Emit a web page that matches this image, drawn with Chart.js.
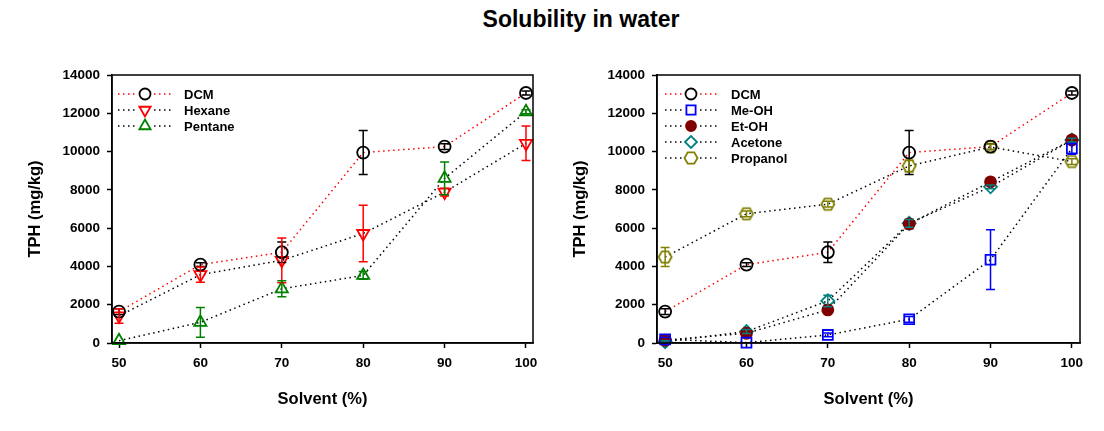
<!DOCTYPE html>
<html>
<head>
<meta charset="utf-8">
<script src="https://cdn.jsdelivr.net/npm/chart.js@4.4.1/dist/chart.umd.min.js"></script>
<style>
  body { margin: 0; background: #fff; width: 1104px; height: 431px; overflow: hidden; position: relative; }
  #title { position: absolute; left: 381px; top: 5px; width: 400px; text-align: center;
           font: bold 23px 'Liberation Sans', Arial, sans-serif; line-height: 28px; color: #000; }
  canvas { position: absolute; top: 0; }
  #left { left: 0; }
  #right { left: 552px; }
</style>
</head>
<body>
<div id="title">Solubility in water</div>
<canvas id="left" width="552" height="431"></canvas>
<canvas id="right" width="552" height="431"></canvas>
<script>
// Solvent concentration (%) on the x axis
const solvent = [50, 60, 70, 80, 90, 100];
const xTicks = [50, 60, 70, 80, 90, 100];
const yTicks = [0, 2000, 4000, 6000, 8000, 10000, 12000, 14000];

// TPH (mg/kg) and error bars
const dcm = [1640, 4090, 4740, 9950, 10260, 13060];
const dcmErr = [150, 100, 540, 1150, 150, 100];
const hexane = [1415, 3570, 4320, 5720, 7880, 10430];
const hexaneErr = [380, 400, 1170, 1480, 200, 900];
const pentane = [120, 1080, 2830, 3530, 8600, 12080];
const pentaneErr = [0, 780, 420, 200, 850, 100];

const meoh = [190, 20, 420, 1240, 4350, 10160];
const meohErr = [100, 0, 100, 150, 1560, 300];
const etoh = [150, 510, 1730, 6220, 8420, 10610];
const etohErr = [50, 100, 100, 250, 100, 100];
const acetone = [70, 600, 2200, 6250, 8160, 10600];
const acetoneErr = [50, 100, 300, 200, 100, 100];
const propanol = [4490, 6750, 7250, 9250, 10240, 9480];
const propanolErr = [500, 150, 150, 300, 150, 150];

const FONT = "'Liberation Sans', Arial, sans-serif";
Chart.defaults.color = '#000';
Chart.defaults.font.family = FONT;

function points(values) {
    return values.map((v, i) => ({ x: solvent[i], y: v }));
}

// open hexagon marker for propanol
function hexagonMarker(color) {
    const c = document.createElement('canvas');
    c.width = 16; c.height = 16;
    const g = c.getContext('2d');
    g.strokeStyle = color;
    g.lineWidth = 1.8;
    g.beginPath();
    for (let k = 0; k < 6; k++) {
        const a = Math.PI / 3 * k;
        const px = 8 + 6.5 * Math.cos(a), py = 8 + 6.5 * Math.sin(a);
        if (k === 0) g.moveTo(px, py); else g.lineTo(px, py);
    }
    g.closePath();
    g.stroke();
    return c;
}

function series(label, values, errors, color, lineColor, style, opts) {
    return Object.assign({
        label: label,
        data: points(values),
        errors: errors,
        borderColor: lineColor,
        borderWidth: 1.5,
        borderDash: [1.5, 3.5],
        pointStyle: style,
        pointRadius: 6,
        pointBorderWidth: 1.8,
        pointBorderColor: color,
        pointBackgroundColor: 'rgba(0,0,0,0)',
        errorColor: color,
        fill: false,
        clip: false
    }, opts || {});
}

const errorBars = {
    id: 'errorBars',
    afterDatasetsDraw(chart) {
        const { ctx, scales: { x, y } } = chart;
        chart.data.datasets.forEach(ds => {
            if (!ds.errors) return;
            ctx.save();
            ctx.strokeStyle = ds.errorColor;
            ctx.lineWidth = 1.5;
            ds.data.forEach((p, j) => {
                const e = ds.errors[j];
                if (!e) return;
                const px = x.getPixelForValue(p.x);
                const top = y.getPixelForValue(p.y + e);
                const bot = y.getPixelForValue(Math.max(p.y - e, 0));
                ctx.beginPath();
                ctx.moveTo(px, top); ctx.lineTo(px, bot);
                ctx.moveTo(px - 4.5, top); ctx.lineTo(px + 4.5, top);
                ctx.moveTo(px - 4.5, bot); ctx.lineTo(px + 4.5, bot);
                ctx.stroke();
            });
            ctx.restore();
        });
    }
};

const frame = {
    id: 'frame',
    afterDraw(chart) {
        const { ctx, chartArea: a } = chart;
        ctx.save();
        ctx.strokeStyle = '#000';
        ctx.lineWidth = 1.5;
        ctx.strokeRect(a.left, a.top, a.right - a.left, a.bottom - a.top);
        ctx.restore();
    }
};

// legend drawn inside the plot: dotted line, marker, label
const insideLegend = {
    id: 'insideLegend',
    afterDraw(chart, args, o) {
        const ctx = chart.ctx;
        chart.data.datasets.forEach((ds, i) => {
            const y = o.top + i * 16;
            ctx.save();
            ctx.strokeStyle = ds.borderColor;
            ctx.lineWidth = 1.5;
            ctx.setLineDash([1.5, 3.5]);
            ctx.beginPath();
            ctx.moveTo(o.lineStart, y); ctx.lineTo(o.marker - 9, y);
            ctx.moveTo(o.marker + 9, y); ctx.lineTo(o.lineEnd, y);
            ctx.stroke();
            ctx.setLineDash([]);
            ctx.strokeStyle = ds.pointBorderColor;
            ctx.fillStyle = ds.pointBackgroundColor;
            ctx.lineWidth = ds.pointBorderWidth;
            if (Chart.helpers && Chart.helpers.drawPoint) {
                Chart.helpers.drawPoint(ctx, {
                    pointStyle: ds.pointStyle,
                    rotation: ds.pointRotation || 0,
                    radius: ds.pointRadius - 0.5,
                    borderWidth: ds.pointBorderWidth
                }, o.marker, y);
            }
            ctx.fillStyle = '#000';
            ctx.font = 'bold 13px ' + FONT;
            ctx.textBaseline = 'middle';
            ctx.fillText(ds.label, o.text, y + 1);
            ctx.restore();
        });
    }
};

function makeOptions(pad, xMin, xMax, legend) {
    return {
        responsive: false,
        animation: false,
        layout: { padding: pad },
        plugins: {
            legend: { display: false },
            tooltip: { enabled: false },
            insideLegend: legend
        },
        scales: {
            x: {
                type: 'linear',
                min: xMin,
                max: xMax,
                afterBuildTicks: s => { s.ticks = xTicks.map(v => ({ value: v })); },
                afterFit: s => { s.height = 70; },
                grid: { drawOnChartArea: false, drawTicks: true, tickLength: 5, tickColor: '#000', tickWidth: 1.5 },
                border: { color: '#000', width: 1.5 },
                ticks: { font: { size: 13.5, weight: 'bold' }, padding: 7, maxRotation: 0, callback: v => String(v) },
                title: { display: true, text: 'Solvent (%)', font: { size: 16.5, weight: 'bold' } }
            },
            y: {
                min: 0,
                max: 14000,
                afterBuildTicks: s => { s.ticks = yTicks.map(v => ({ value: v })); },
                afterFit: s => { s.width = 90; },
                grid: { drawOnChartArea: false, drawTicks: true, tickLength: 5, tickColor: '#000', tickWidth: 1.5 },
                border: { color: '#000', width: 1.5 },
                ticks: { font: { size: 13.5, weight: 'bold' }, padding: 7, callback: v => String(v) },
                title: { display: true, text: 'TPH (mg/kg)', font: { size: 16.5, weight: 'bold' } }
            }
        }
    };
}

new Chart(document.getElementById('left'), {
    type: 'line',
    data: {
        datasets: [
            series('DCM', dcm, dcmErr, '#000000', '#ff0000', 'circle'),
            series('Hexane', hexane, hexaneErr, '#ff0000', '#000000', 'triangle', { pointRadius: 7, pointRotation: 180 }),
            series('Pentane', pentane, pentaneErr, '#008000', '#000000', 'triangle', { pointRadius: 7 })
        ]
    },
    options: makeOptions({ left: 22, right: 19, top: 75, bottom: 18 }, 49.14, 100.86,
        { top: 94, lineStart: 118, lineEnd: 172, marker: 145, text: 184 }),
    plugins: [errorBars, frame, insideLegend]
});

new Chart(document.getElementById('right'), {
    type: 'line',
    data: {
        datasets: [
            series('DCM', dcm, dcmErr, '#000000', '#ff0000', 'circle'),
            series('Me-OH', meoh, meohErr, '#0000ff', '#000000', 'rect', { pointRadius: 7 }),
            series('Et-OH', etoh, etohErr, '#800000', '#000000', 'circle', { pointBackgroundColor: '#800000', pointRadius: 5.5 }),
            series('Acetone', acetone, acetoneErr, '#008080', '#000000', 'rectRot', { pointRadius: 6.5 }),
            series('Propanol', propanol, propanolErr, '#808000', '#000000', hexagonMarker('#808000'))
        ]
    },
    options: makeOptions({ left: 15, right: 24, top: 75, bottom: 18 }, 49.0, 101.0,
        { top: 94, lineStart: 113, lineEnd: 166, marker: 139, text: 179 }),
    plugins: [errorBars, frame, insideLegend]
});
</script>
</body>
</html>
